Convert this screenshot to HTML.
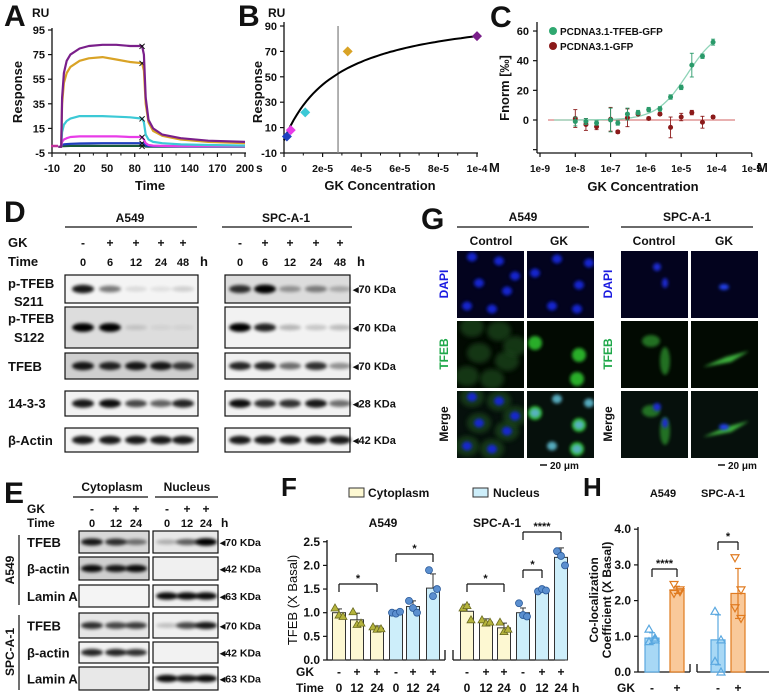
<!DOCTYPE html>
<html><head><meta charset="utf-8">
<style>
html,body{margin:0;padding:0;background:#fff;}
svg{display:block;font-family:"Liberation Sans",Arial,sans-serif;}
text{font-weight:bold;fill:#111;}
</style></head>
<body>
<svg id="fig" width="769" height="700" viewBox="0 0 769 700" xmlns="http://www.w3.org/2000/svg">
<defs>
<filter id="blur1" x="-50%" y="-50%" width="200%" height="200%"><feGaussianBlur stdDeviation="1.6"/></filter>
<filter id="blur2" x="-50%" y="-50%" width="200%" height="200%"><feGaussianBlur stdDeviation="2.5"/></filter>
</defs>
<g id="root"></g>
</svg>
<script>
// ---------- Panel A data (SPR sensorgram) ----------
const aTimes = [-3,0,1,3,6,10,20,30,45,60,75,88,90,92,95,100,110,130,160,200];
const aPurple = [0,0,40,60,70,75,80,82,83,83,82,82,75,40,22,15,10,7,5,4];
const aOrange = [0,0,35,52,60,65,70,72,73,71,69,68,62,35,20,13,9,6,4,3];
const aCyan   = [0,0,12,18,21,23,25,25,25,24.5,24,23,20,10,6,4,3,2,1.5,1];
const aMagenta= [0,0,4,6,7,8,8.5,8.5,8.5,8.5,8,8,6,3,1.5,1,0.8,0.6,0.5,0.5];
const aBlue   = [0,0,1.5,2,2.2,2.5,2.7,2.8,3,3,3,3,2.5,1.2,0.8,0.6,0.5,0.4,0.4,0.4];
const aGreen  = [0,0,0.5,0.6,0.7,0.8,0.8,0.8,0.8,0.8,0.8,0.8,0.6,0.3,0.2,0.2,0.2,0.2,0.2,0.2];
const aXTicks = [-10,20,50,80,110,140,170,200];
const aYTicks = [95,75,55,35,15,-5];
// ---------- Panel B data ----------
const bConc = [1.5e-6,3.5e-6,1.1e-5,3.3e-5,1e-4];
const bResp = [3,8,22,70,82];
const bColors = ["#1f3fbf","#e83ce8","#3cc9d6","#d9a326","#7a1f8a"];
const bKD = 2.8e-5;
const bRmax = 105;
const bXTicks = [0,2e-5,4e-5,6e-5,8e-5,1e-4];
const bXLabels = ["0","2e-5","4e-5","6e-5","8e-5","1e-4"];
const bYTicks = [90,70,50,30,10,-10];
// ---------- Panel C data (MST) ----------
const cConc = [1e-8,2e-8,4e-8,1e-7,1.6e-7,3e-7,6e-7,1.2e-6,2.5e-6,5e-6,1e-5,2e-5,4e-5,8e-5];
const cTfeb = [-1,-1,-2,0,-2,4,5,7,7.5,15.5,22,37,43,52.5];
const cTfebErr = [3,2,1.5,8,1.5,4,1.5,1.5,1.5,1.5,1.5,8,1.5,2];
const cGfp  = [1,-3,-4.5,0.5,-8,1.5,4,1,4,-5,2,5,-1.5,2];
const cGfpErr = [6,4,2,8,1,6,1,1,1,7,2.5,1.5,4,1];
const cEC50 = 1.5e-5;
const cTop = 62;
const cXLabels = ["1e-9","1e-8","1e-7","1e-6","1e-5","1e-4","1e-5"];
const cYTicks = [60,40,20,0];
// ---------- Panel F data ----------
const fGroups = ["A549-cyto","A549-nuc","SPC-cyto","SPC-nuc"];
const fMeans = [1.0,0.85,0.67, 1.0,1.13,1.52, 1.03,0.80,0.68, 1.0,1.47,2.17];
const fSD = [0.08,0.14,0.05, 0.05,0.12,0.3, 0.15,0.07,0.1, 0.1,0.05,0.2];
const fPoints = [[1.1,0.95,0.92],[1.02,0.75,0.78],[0.7,0.65,0.66],[1.0,0.98,1.02],[1.25,1.1,1.0],[1.9,1.35,1.5],[1.1,1.15,0.85],[0.85,0.78,0.8],[0.8,0.6,0.65],[1.2,0.95,0.92],[1.45,1.5,1.47],[2.3,2.2,2.0]];
const fYTicks = [0,0.5,1.0,1.5,2.0,2.5];
// ---------- Panel H data ----------
const hMeans = [0.95,2.3,0.9,2.2];
const hSD = [0.15,0.1,0.7,0.7];
const hPoints = [[1.2,0.9,0.85,0.95],[2.45,2.3,2.2,2.25],[1.7,0.9,0.3,0.0],[3.2,2.3,1.8,1.5]];
const hYTicks = [0,1.0,2.0,3.0,4.0];

const NS="http://www.w3.org/2000/svg";
const root=document.getElementById('root');
function el(tag,attrs,parent){const e=document.createElementNS(NS,tag);for(const k in attrs)e.setAttribute(k,attrs[k]);(parent||root).appendChild(e);return e;}
function txt(x,y,s,size,anchor,parent,extra){const t=el('text',Object.assign({x:x,y:y,'font-size':size,'text-anchor':anchor||'start'},extra||{}),parent);t.textContent=s;return t;}
function line(x1,y1,x2,y2,stroke,w,parent){return el('line',{x1,y1,x2,y2,stroke:stroke||'#111','stroke-width':w||1.3},parent);}

// ===== Panel A =====
const gA=el('g',{});


txt(4,26,'A',30,'start',gA);
txt(32,17,'RU',12,'start',gA);
const ax=t=>52+(t+10)*(193/210);
const ay=v=>153-(v+5)*(123/100);
line(52,28,52,153,'#111',1.3,gA);line(52,153,246,153,'#111',1.3,gA);
aYTicks.forEach(v=>{line(48,ay(v),52,ay(v),'#111',1.2,gA);txt(45,ay(v)+4,String(v),11,'end',gA);});
aXTicks.forEach(v=>{line(ax(v),153,ax(v),157,'#111',1.2,gA);txt(ax(v),172,String(v),11,'middle',gA);});
for(let i=0;i<aXTicks.length-1;i++){const m=(aXTicks[i]+aXTicks[i+1])/2;line(ax(m),153,ax(m),155.5,'#111',1,gA);}
txt(256,172,'s',12,'start',gA);
txt(150,190,'Time',13,'middle',gA);
txt(0,0,'Response',13,'middle',gA,{transform:'translate(22,92) rotate(-90)'});
line(51,146,58,146,'#c0309a',2.5,gA);
const aSeries=[[aGreen,'#1a5a3a'],[aBlue,'#1f3fbf'],[aMagenta,'#e83ce8'],[aCyan,'#3cc9d6'],[aOrange,'#d9a326'],[aPurple,'#7a1f8a']];
aSeries.forEach(([vals,col],k)=>{
  const d=aTimes.map((t,i)=>(i?'L':'M')+ax(t).toFixed(1)+','+ay(vals[i]).toFixed(1)).join('');
  const p=el('path',{d:d,fill:'none',stroke:col,'stroke-width':2.2,'stroke-linejoin':'round'},gA);
  
  
  const xx=ax(88),yy=ay(vals[11]);
  txt(xx,yy+4,'✕',10,'middle',gA,{style:'font-weight:normal'});
});
// ===== Panel B =====
const gB=el('g',{});


txt(238,26,'B',30,'start',gB);
txt(268,17,'RU',12,'start',gB);
const bx=c=>284+c/1e-4*193;
const by=v=>153-(v+10)*1.27;
line(284,22,284,153,'#111',1.3,gB);line(284,153,478,153,'#111',1.3,gB);
bYTicks.forEach(v=>{line(280,by(v),284,by(v),'#111',1.2,gB);txt(277,by(v)+4,String(v),11,'end',gB);});
bXTicks.forEach((v,i)=>{line(bx(v),153,bx(v),157,'#111',1.2,gB);txt(bx(v),172,bXLabels[i],10.5,'middle',gB);});
for(let i=0;i<bXTicks.length-1;i++){const m=(bXTicks[i]+bXTicks[i+1])/2;line(bx(m),153,bx(m),155.5,'#111',1,gB);}
txt(489,172,'M',13,'start',gB);
txt(380,190,'GK Concentration',13,'middle',gB);
txt(0,0,'Response',13,'middle',gB,{transform:'translate(262,92) rotate(-90)'});
line(bx(bKD),26,bx(bKD),153,'#888',1.3,gB);
let bd='';for(let i=0;i<=60;i++){const c=i/60*1e-4;bd+=(i?'L':'M')+bx(c).toFixed(1)+','+by(bRmax*c/(bKD+c)).toFixed(1);}
el('path',{d:bd,fill:'none',stroke:'#000','stroke-width':2},gB);
bConc.forEach((c,i)=>{const x=bx(c),y=by(bResp[i]);const p=el('polygon',{points:`${x},${y-5} ${x+5},${y} ${x},${y+5} ${x-5},${y}`,fill:bColors[i]},gB);
  
  });
// ===== Panel C =====
const gC=el('g',{});


txt(490,27,'C',30,'start',gC);
const cx=c=>540+(Math.log10(c)+9)*35.3;
const cy=v=>120-v*1.483;
line(537,22,537,153,'#111',1.3,gC);line(537,153,752,153,'#111',1.3,gC);
cYTicks.forEach(v=>{line(533,cy(v),537,cy(v),'#111',1.2,gC);txt(529,cy(v)+4,String(v),11,'end',gC);});
line(533,cy(-20)+0,537,cy(-20),'#111',1.2,gC);
cXLabels.forEach((s,i)=>{const x=540+i*35.3;line(x,153,x,157,'#111',1.2,gC);txt(x,172,s,10,'middle',gC);});
txt(757,172,'M',13,'start',gC);
txt(643,191,'GK Concentration',13,'middle',gC);
txt(0,0,'Fnorm [‰]',13,'middle',gC,{transform:'translate(509,88) rotate(-90)'});
line(548,120,735,120,'#d98080',1.2,gC);
let cd='';for(let i=0;i<=80;i++){const lc=-8.6+i/80*4.5;const c=Math.pow(10,lc);cd+=(i?'L':'M')+cx(c).toFixed(1)+','+cy(cTop*c/(cEC50+c)).toFixed(1);}
el('path',{d:cd,fill:'none',stroke:'#8fd4b8','stroke-width':1.3},gC);
function cpts(vals,errs,col,nm){vals.forEach((v,i)=>{const x=cx(cConc[i]),y=cy(v);
  line(x,cy(v+errs[i]),x,cy(v-errs[i]),col,0.9,gC);line(x-2,cy(v+errs[i]),x+2,cy(v+errs[i]),col,0.9,gC);line(x-2,cy(v-errs[i]),x+2,cy(v-errs[i]),col,0.9,gC);
  const c=el('circle',{cx:x,cy:y,r:2.5,fill:col},gC);
  
  });}
cpts(cGfp,cGfpErr,'#8b1a1a','gfp-point');
cpts(cTfeb,cTfebErr,'#2a9a6a','tfeb-gfp-point');
el('circle',{cx:553,cy:31,r:4,fill:'#2fa870'},gC);txt(560,35,'PCDNA3.1-TFEB-GFP',10,'start',gC);
el('circle',{cx:553,cy:46,r:4,fill:'#8b1a1a'},gC);txt(560,50,'PCDNA3.1-GFP',10,'start',gC);

// ===== Blot helpers =====
function blot(x,y,w,h,bg,lanes,ints,bh,parent,name){
  const g=el('g',{},parent);
  
  
  el('rect',{x:x,y:y,width:w,height:h,fill:bg,stroke:'#111','stroke-width':1.2},g);
  lanes.forEach((lx,i)=>{if(ints[i]<=0)return;el('ellipse',{cx:lx,cy:y+h/2,rx:11,ry:bh*(0.6+0.5*ints[i]),fill:'#000',opacity:Math.min(1,ints[i]),filter:'url(#blur1)'},g);});
  return g;
}
// ===== Panel D =====
const gD=el('g',{});


txt(4,222,'D',30,'start',gD);
txt(130,222,'A549',12,'middle',gD);line(65,227,197,227,'#111',1.2,gD);
txt(286,222,'SPC-A-1',12,'middle',gD);line(222,227,352,227,'#111',1.2,gD);
const dLA=[83,110,136,161,183],dLS=[240,265,290,316,340];
const dGK=['-','+','+','+','+'],dT=['0','6','12','24','48'];
txt(8,247,'GK',13,'start',gD);txt(8,266,'Time',13,'start',gD);
dLA.forEach((x,i)=>{txt(x,247,dGK[i],12,'middle',gD);txt(x,266,dT[i],11,'middle',gD);});
dLS.forEach((x,i)=>{txt(x,247,dGK[i],12,'middle',gD);txt(x,266,dT[i],11,'middle',gD);});
txt(200,266,'h',13,'start',gD);txt(357,266,'h',13,'start',gD);
const dRows=[[275,303,'#f4f4f4','#dcdcdc',[0.9,0.5,0.1,0.08,0.15],[0.8,1,0.35,0.45,0.25],'70'],
 [307,348,'#dddddd','#f2f2f2',[1,1,0.12,0.05,0.05],[1,0.85,0.25,0.18,0.22],'70'],
 [353,379,'#cfcfcf','#f0f0f0',[0.9,0.85,0.9,0.9,0.75],[0.85,0.85,0.55,0.8,0.4],'70'],
 [391,416,'#f2f2f2','#f2f2f2',[0.9,0.95,0.7,0.6,0.85],[0.95,0.8,0.8,0.9,0.55],'28'],
 [428,452,'#f4f4f4','#f4f4f4',[0.9,0.9,0.9,0.9,0.9],[0.9,0.9,0.9,0.9,0.9],'42']];
dRows.forEach((r,i)=>{blot(65,r[0],133,r[1]-r[0],r[2],dLA,r[4],4,gD,'blot-a549-row-'+i);
  blot(225,r[0],125,r[1]-r[0],r[3],dLS,r[5],4,gD,'blot-spc-row-'+i);
  txt(353,(r[0]+r[1])/2+4,'◂'+r[6]+' KDa',11,'start',gD);});
txt(8,288,'p-TFEB',13,'start',gD);txt(14,306,'S211',13,'start',gD);
txt(8,323,'p-TFEB',13,'start',gD);txt(14,342,'S122',13,'start',gD);
txt(8,371,'TFEB',13,'start',gD);txt(8,408,'14-3-3',13,'start',gD);txt(8,445,'β-Actin',13,'start',gD);

// ===== Panel G =====
const gG=el('g',{});


txt(421,229,'G',30,'start',gG);
txt(523,221,'A549',12,'middle',gG);line(457,227,589,227,'#111',1.2,gG);
txt(687,221,'SPC-A-1',12,'middle',gG);line(621,227,753,227,'#111',1.2,gG);
[[491,'Control'],[559,'GK'],[654,'Control'],[724,'GK']].forEach(([x,s])=>txt(x,245,s,12,'middle',gG));
const gCols=[457,527,621,691],gRowsY=[251,321,391],gW=67;
const dapiA=[[15,6],[42,10],[22,32],[50,40],[10,55],[35,58],[58,25]],dapiG=[[8,22],[30,8],[52,34],[25,55],[50,58],[62,12]];
function cell(g,x,y,rx,ry,col,op,blur){el('ellipse',{cx:x,cy:y,rx:rx,ry:ry,fill:col,opacity:op,filter:blur||'url(#blur1)'},g);}
gCols.forEach((x0,c)=>{gRowsY.forEach((y0,r)=>{
  const g=el('g',{},gG);
  
  
  el('rect',{x:x0,y:y0,width:gW,height:67,fill:r==0?'#03031e':(r==1?'#020a02':'#06100c')},g);
  const cp=el('clipPath',{id:'cp'+c+r},g);el('rect',{x:x0,y:y0,width:gW,height:67},cp);
  const inner=el('g',{'clip-path':'url(#cp'+c+r+')'},g);
  if(c<2){const pts=c==0?dapiA:dapiG;
    pts.forEach(([px,py],k)=>{
      if(r==1||r==2){ if(c==0) cell(inner,x0+px,y0+py,12,10,'#1f4a1f',0.7,'url(#blur2)'); else if(k%2==0) cell(inner,x0+px,y0+py,7,7,'#2fc02f',0.9); }
      if(r==0||r==2) cell(inner,x0+px,y0+py,5,4.5,r==2&&c==1?'#5ab4c8':'#1228d8',0.95);
    });
  } else {
    if(c==2){ if(r!=0){cell(inner,x0+30,y0+20,9,6,'#2a8a2a',0.8);cell(inner,x0+44,y0+40,5,14,'#2a8a2a',0.8);}
      if(r!=1){cell(inner,x0+36,y0+16,4,4,'#1a2ad0',1);cell(inner,x0+44,y0+32,3,5,'#1a2ad0',1);} }
    else { if(r!=0) el('polygon',{points:`${x0+12},${y0+46} ${x0+35},${y0+36} ${x0+58},${y0+30} ${x0+40},${y0+41}`,fill:'#3cb03c',filter:'url(#blur1)'},inner);
      if(r!=1) cell(inner,x0+33,y0+36,5,3,'#2040e8',1); }
  }
});});
[[448,'DAPI','#1a1ae0',284],[448,'TFEB','#1fa84a',354],[448,'Merge','#111',424],[612,'DAPI','#1a1ae0',284],[612,'TFEB','#1fa84a',354],[612,'Merge','#111',424]].forEach(([x,s,col,y])=>{
  txt(0,0,s,12,'middle',gG,{transform:`translate(${x},${y}) rotate(-90)`,style:'fill:'+col});});
line(540,465,547,465,'#111',1.5,gG);txt(550,469,'20 μm',10,'start',gG);
line(718,465,725,465,'#111',1.5,gG);txt(728,469,'20 μm',10,'start',gG);

// ===== Panel E =====
const gE=el('g',{});


txt(4,503,'E',30,'start',gE);
txt(112,491,'Cytoplasm',12,'middle',gE);line(73,497,148,497,'#111',1.2,gE);
txt(187,491,'Nucleus',12,'middle',gE);line(155,497,218,497,'#111',1.2,gE);
const eLC=[92,116,136],eLN=[167,187,206],eGK=['-','+','+'],eT=['0','12','24'];
txt(27,513,'GK',12,'start',gE);txt(27,527,'Time',12,'start',gE);
eLC.concat(eLN).forEach((x,i)=>{txt(x,513,eGK[i%3],12,'middle',gE);txt(x,527,eT[i%3],11,'middle',gE);});
txt(221,527,'h',12,'start',gE);
const eRows=[[531,553,[0.9,0.8,0.5],[0.25,0.6,1],'TFEB','70','#d8d8d8','#e8e8e8'],[557,580,[0.95,0.9,0.95],[0,0,0],'β-actin','42','#cfcfcf','#f0f0f0'],[585,607,[0,0,0],[0.95,0.95,0.95],'Lamin A','63','#f4f4f4','#f0f0f0'],
 [613,638,[0.8,0.7,0.75],[0.2,0.7,0.9],'TFEB','70','#e6e6e6','#f0f0f0'],[642,663,[0.85,0.85,0.8],[0,0,0],'β-actin','42','#f2f2f2','#f2f2f2'],[667,690,[0,0,0],[0.95,0.9,0.95],'Lamin A','63','#e8e8e8','#f2f2f2']];
eRows.forEach((r,i)=>{blot(79,r[0],70,r[1]-r[0],r[6],eLC,r[2],3.5,gE,'fraction-blot-cyto-'+i);
  blot(153,r[0],65,r[1]-r[0],r[7],eLN,r[3],3.5,gE,'fraction-blot-nuc-'+i);
  txt(27,(r[0]+r[1])/2+5,r[4],13,'start',gE);txt(220,(r[0]+r[1])/2+4,'◂'+r[5]+' KDa',10.5,'start',gE);});
line(19,535,19,605,'#111',1.2,gE);line(19,615,19,690,'#111',1.2,gE);
txt(0,0,'A549',12,'middle',gE,{transform:'translate(14,570) rotate(-90)'});
txt(0,0,'SPC-A-1',12,'middle',gE,{transform:'translate(14,652) rotate(-90)'});

// ===== Panel F =====
const gF=el('g',{});


txt(281,496,'F',26,'start',gF);
el('rect',{x:349,y:488,width:15,height:9,fill:'#fdf8d2',stroke:'#333'},gF);txt(368,497,'Cytoplasm',12,'start',gF);
el('rect',{x:473,y:488,width:15,height:9,fill:'#cdeefa',stroke:'#333'},gF);txt(493,497,'Nucleus',12,'start',gF);
txt(383,527,'A549',12,'middle',gF);txt(497,527,'SPC-A-1',12,'middle',gF);
const fy=v=>660-v*47.3;
const fX=[339,357,377,396,413,433,467,486,504,523,542,561];
line(327,540,327,660,'#111',1.3,gF);line(327,660,445,660,'#111',1.3,gF);line(445,660,445,650,'#111',1.3,gF);
line(453,660,565,660,'#111',1.3,gF);line(453,660,453,650,'#111',1.3,gF);
fYTicks.forEach(v=>{line(323,fy(v),327,fy(v),'#111',1.2,gF);txt(320,fy(v)+4,v.toFixed(1),12,'end',gF);});
txt(0,0,'TFEB (X Basal)',13,'middle',gF,{transform:'translate(297,600) rotate(-90)',style:'font-weight:normal'});
fMeans.forEach((m,i)=>{const nuc=Math.floor(i/3)%2==1;const x=fX[i];
  const b=el('rect',{x:x-6.5,y:fy(m),width:13,height:660-fy(m),fill:nuc?'#cdeefa':'#fdf8d2',stroke:'#333','stroke-width':1},gF);
  
  
  line(x,fy(m+fSD[i]),x,fy(m),'#333',1,gF);line(x-3,fy(m+fSD[i]),x+3,fy(m+fSD[i]),'#333',1,gF);
  fPoints[i].forEach((p,k)=>{const px=x+(k-1)*4,py=fy(p);
    if(nuc) el('circle',{cx:px,cy:py,r:3.5,fill:'#5b8fcf',stroke:'#2a5a9a','stroke-width':0.8},gF);
    else el('polygon',{points:`${px},${py-4} ${px+4},${py+3} ${px-4},${py+3}`,fill:'#b5b43c',stroke:'#6a6a20','stroke-width':0.8},gF);});
  txt(x,676,i%3==0?'-':'+',12,'middle',gF);txt(x,692,['0','12','24'][i%3],12,'middle',gF);});
txt(296,676,'GK',12,'start',gF);txt(296,692,'Time',12,'start',gF);txt(572,692,'h',12,'start',gF);
function bracket(x1,x2,y,s,g,len){line(x1,y+len,x1,y,'#111',1.2,g);line(x1,y,x2,y,'#111',1.2,g);line(x2,y,x2,y+len,'#111',1.2,g);txt((x1+x2)/2,y-2,s,11,'middle',g);}
bracket(339,377,584,'*',gF,8);bracket(396,433,554,'*',gF,8);bracket(467,504,584,'*',gF,8);bracket(523,542,570,'*',gF,8);bracket(523,561,532,'****',gF,8);

// ===== Panel H =====
const gH=el('g',{});


txt(583,496,'H',26,'start',gH);
txt(663,497,'A549',11,'middle',gH);txt(723,497,'SPC-A-1',11,'middle',gH);
const hy=v=>672-v*35.7;
const hX=[652,677,718,738];
line(638,527,638,672,'#111',1.3,gH);line(638,672,690,672,'#111',1.3,gH);line(690,672,690,664,'#111',1.3,gH);
line(697,672,769,672,'#111',1.3,gH);line(697,672,697,664,'#111',1.3,gH);
hYTicks.forEach(v=>{line(634,hy(v),638,hy(v),'#111',1.2,gH);txt(631,hy(v)+4,v.toFixed(1),12,'end',gH);});
txt(0,0,'Co-localization',12,'middle',gH,{transform:'translate(598,600) rotate(-90)'});
txt(0,0,'Coefficient (X Basal)',12,'middle',gH,{transform:'translate(611,600) rotate(-90)'});
hMeans.forEach((m,i)=>{const x=hX[i],o=i%2==1;const col=o?'#e07b20':'#5aa8e0';
  const b=el('rect',{x:x-7,y:hy(m),width:14,height:672-hy(m),fill:o?'#f9c99a':'#a8d8f5',stroke:col,'stroke-width':1.2},gH);
  
  
  line(x,hy(m+hSD[i]),x,hy(m-hSD[i]),col,1.2,gH);line(x-3,hy(m+hSD[i]),x+3,hy(m+hSD[i]),col,1.2,gH);line(x-3,hy(m-hSD[i]),x+3,hy(m-hSD[i]),col,1.2,gH);
  hPoints[i].forEach((p,k)=>{const px=x+(k%2?3:-3),py=hy(p);
    if(o) el('polygon',{points:`${px-4},${py-3} ${px+4},${py-3} ${px},${py+4}`,fill:'none',stroke:col,'stroke-width':1.2},gH);
    else el('polygon',{points:`${px},${py-4} ${px+4},${py+3} ${px-4},${py+3}`,fill:'none',stroke:col,'stroke-width':1.2},gH);});
  txt(x,692,o?'+':'-',12,'middle',gH);});
txt(617,692,'GK',12,'start',gH);
bracket(652,677,569,'****',gH,8);bracket(718,738,542,'*',gH,8);
</script>
</body></html>
